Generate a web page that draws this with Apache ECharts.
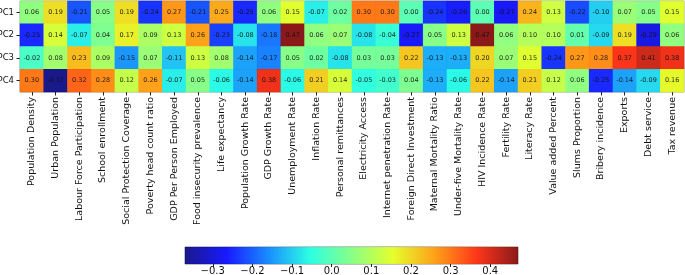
<!DOCTYPE html>
<html>
<head>
<meta charset="utf-8">
<script src="https://cdn.jsdelivr.net/npm/echarts@6/dist/echarts.min.js"></script>
<style>
  html, body {margin: 0; padding: 0; background: #fff;}
  #chart {width: 685px; height: 275px;}
</style>
</head>
<body>
<div id="chart"></div>
<script>
// indicator names (x axis)
const indicators = [
    'Population Density', 'Urban Population', 'Labour Force Participation', 'School enrollment',
    'Social Protection Coverage', 'Poverty head count ratio', 'GDP Per Person Employed',
    'Food insecurity prevalence', 'Life expectancy', 'Population Growth Rate', 'GDP Growth Rate',
    'Unemployment Rate', 'Inflation Rate', 'Personal remittances', 'Electricity Access',
    'Internet penetration Rate', 'Foreign Direct Investment', 'Maternal Mortality Ratio',
    'Under-five Mortality Rate', 'HIV Incidence Rate', 'Fertility Rate', 'Literacy Rate',
    'Value added Percent', 'Slums Proportion', 'Bribery incidence', 'Exports', 'Debt service',
    'Tax revenue'
];
const components = ['PC1', 'PC2', 'PC3', 'PC4'];

// loadings per component
const pc1 = [0.06, 0.19, -0.21, 0.05, 0.19, -0.24, 0.27, -0.21, 0.25, -0.25, 0.06, 0.15, -0.07, 0.02,
    0.30, 0.30, 0.00, -0.24, -0.26, 0.00, -0.27, 0.24, 0.13, -0.22, -0.10, 0.07, 0.05, 0.15];
const pc2 = [-0.25, 0.14, -0.07, 0.04, 0.17, 0.09, 0.13, 0.26, -0.23, -0.08, -0.18, 0.47, 0.06, 0.07,
    -0.08, -0.04, -0.27, 0.05, 0.13, 0.47, 0.06, 0.10, 0.10, 0.01, -0.09, 0.19, -0.29, 0.06];
const pc3 = [-0.02, 0.08, 0.23, 0.09, -0.15, 0.07, -0.11, 0.13, 0.08, -0.14, -0.17, 0.05, 0.02, -0.08,
    0.03, 0.03, 0.22, -0.13, -0.13, 0.20, 0.07, 0.15, -0.24, 0.27, 0.28, 0.37, 0.41, 0.38];
const pc4 = [0.30, -0.37, 0.32, 0.28, 0.12, 0.26, -0.07, 0.05, -0.06, -0.14, 0.38, -0.06, 0.21, 0.14,
    -0.05, -0.03, 0.04, -0.13, -0.06, 0.22, -0.14, 0.21, 0.12, 0.06, -0.25, -0.14, -0.09, 0.16];

// colour bar range and ticks
const vMin = -0.37;
const vMax = 0.47;
const cbarTicks = [-0.3, -0.2, -0.1, 0.0, 0.1, 0.2, 0.3, 0.4];

// jet colormap sampled evenly
const jet = ['#000080', '#0000ff', '#0080ff', '#15ffe2', '#7bff7b', '#e2ff15', '#ff9700', '#ff2100', '#800000'];

let heatData = [];
[pc1, pc2, pc3, pc4].forEach((row, r) => {
    row.forEach((v, c) => {
        heatData.push([c, r, v]);
    });
});

const fmtMinus = (v) => (v < 0 ? '\u2212' + Math.abs(v).toFixed(1) : v.toFixed(1));

let el = echarts.init(document.getElementById('chart'), null, {renderer: 'canvas'});
let option = {
    animation: false,
    textStyle: {fontFamily: 'DejaVu Sans'},
    grid: [
        {left: 20, right: 1, top: 1, height: 91, show: true, borderColor: '#888', borderWidth: 0.8,
            outerBoundsMode: 'none', containLabel: false},
        {left: 185, width: 333, top: 247, height: 17, show: true, borderColor: '#666', borderWidth: 0.8,
            outerBoundsMode: 'none', containLabel: false}
    ],
    xAxis: [
        {
            type: 'category', gridIndex: 0, data: indicators,
            axisLine: {show: false},
            axisTick: {show: true, length: 3.5, alignWithLabel: true, lineStyle: {color: '#222'}},
            axisLabel: {rotate: 90, interval: 0, fontSize: 9.5, color: '#111', margin: 5}
        },
        {
            type: 'value', gridIndex: 1, min: vMin, max: vMax,
            splitLine: {show: false},
            axisLine: {show: false},
            axisTick: {show: true, length: 3, customValues: cbarTicks, lineStyle: {color: '#222'}},
            axisLabel: {customValues: cbarTicks, fontSize: 10, color: '#111', margin: 2.5, formatter: fmtMinus}
        }
    ],
    yAxis: [
        {
            type: 'category', gridIndex: 0, data: components, inverse: true,
            axisLine: {show: false},
            axisTick: {show: true, length: 3.5, alignWithLabel: true, lineStyle: {color: '#222'}},
            axisLabel: {fontSize: 8.5, color: '#111', margin: 6}
        },
        {type: 'category', gridIndex: 1, data: ['cb'], show: false}
    ],
    visualMap: {
        show: false, type: 'continuous', seriesIndex: 0, dimension: 2,
        min: vMin, max: vMax,
        inRange: {color: jet, opacity: 0.9}
    },
    series: [
        {
            type: 'heatmap', xAxisIndex: 0, yAxisIndex: 0,
            data: heatData,
            label: {
                show: true, fontSize: 6.5, color: '#111',
                formatter: (p) => p.value[2].toFixed(2)
            },
            itemStyle: {borderWidth: 0}
        },
        {
            type: 'custom', xAxisIndex: 1, yAxisIndex: 1,
            data: [[vMin, vMax]],
            renderItem: (params, api) => {
                const p0 = api.coord([api.value(0), 0]);
                const p1 = api.coord([api.value(1), 0]);
                const size = api.size([0, 1]);
                const h = size[1];
                return {
                    type: 'rect',
                    shape: {x: p0[0], y: p0[1] - h / 2, width: p1[0] - p0[0], height: h},
                    style: {
                        fill: new echarts.graphic.LinearGradient(0, 0, 1, 0,
                            jet.map((c, i) => ({offset: i / (jet.length - 1), color: c}))),
                        opacity: 0.9
                    }
                };
            }
        }
    ]
};
el.setOption(option);
</script>
</body>
</html>
